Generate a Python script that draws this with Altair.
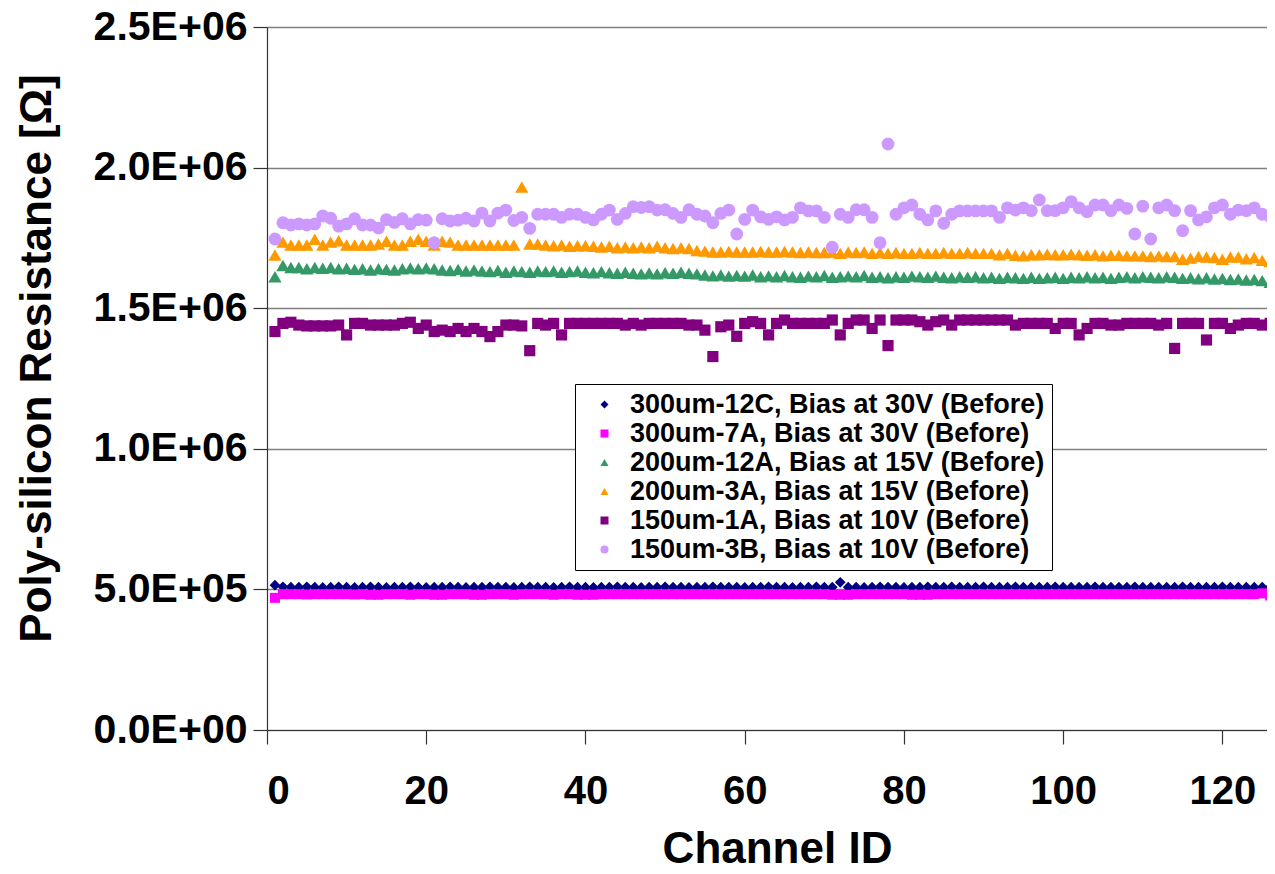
import altair as alt
import pandas as pd

# ---------------- data (values in units of 1E+06 Ohm) ----------------
channels = list(range(1, 127))

series_names = [
    "300um-12C, Bias at 30V (Before)",
    "300um-7A, Bias at 30V (Before)",
    "200um-12A, Bias at 15V (Before)",
    "200um-3A, Bias at 15V (Before)",
    "150um-1A, Bias at 10V (Before)",
    "150um-3B, Bias at 10V (Before)",
]

r_300_12C = [
    0.515, 0.509, 0.508, 0.508, 0.509, 0.508, 0.507, 0.508, 0.509, 0.508,
    0.507, 0.508, 0.509, 0.508, 0.507, 0.508, 0.508, 0.509, 0.508, 0.507,
    0.508, 0.508, 0.509, 0.508, 0.507, 0.508, 0.508, 0.509, 0.508, 0.508,
    0.507, 0.508, 0.509, 0.508, 0.508, 0.507, 0.508, 0.509, 0.508, 0.508,
    0.507, 0.508, 0.508, 0.509, 0.508, 0.508, 0.507, 0.508, 0.508, 0.509,
    0.508, 0.508, 0.507, 0.508, 0.508, 0.509, 0.508, 0.508, 0.508, 0.507,
    0.508, 0.508, 0.509, 0.508, 0.508, 0.507, 0.508, 0.508, 0.509, 0.508,
    0.508, 0.525, 0.508, 0.508, 0.507, 0.508, 0.509, 0.508, 0.508, 0.507,
    0.508, 0.508, 0.509, 0.508, 0.508, 0.509, 0.508, 0.508, 0.508, 0.509,
    0.508, 0.508, 0.508, 0.509, 0.508, 0.508, 0.508, 0.508, 0.509, 0.508,
    0.508, 0.508, 0.508, 0.509, 0.508, 0.508, 0.508, 0.508, 0.509, 0.508,
    0.508, 0.508, 0.508, 0.508, 0.509, 0.508, 0.508, 0.508, 0.508, 0.509,
    0.508, 0.508, 0.508, 0.508, 0.508, 0.508,
]

r_300_7A = [
    0.470, 0.483, 0.483, 0.483, 0.482, 0.483, 0.483, 0.483, 0.483, 0.483,
    0.482, 0.483, 0.481, 0.481, 0.483, 0.483, 0.483, 0.481, 0.483, 0.483,
    0.481, 0.481, 0.483, 0.483, 0.483, 0.481, 0.481, 0.483, 0.483, 0.483,
    0.481, 0.483, 0.483, 0.483, 0.483, 0.481, 0.483, 0.483, 0.481, 0.481,
    0.481, 0.483, 0.483, 0.483, 0.483, 0.483, 0.483, 0.483, 0.483, 0.483,
    0.483, 0.483, 0.483, 0.483, 0.483, 0.483, 0.483, 0.483, 0.483, 0.483,
    0.483, 0.483, 0.483, 0.483, 0.483, 0.483, 0.483, 0.483, 0.483, 0.483,
    0.481, 0.481, 0.481, 0.483, 0.483, 0.483, 0.483, 0.483, 0.483, 0.483,
    0.481, 0.481, 0.481, 0.483, 0.483, 0.483, 0.483, 0.483, 0.483, 0.483,
    0.483, 0.483, 0.483, 0.483, 0.483, 0.483, 0.483, 0.483, 0.483, 0.483,
    0.483, 0.483, 0.483, 0.483, 0.483, 0.483, 0.483, 0.483, 0.483, 0.483,
    0.483, 0.483, 0.483, 0.483, 0.483, 0.483, 0.483, 0.483, 0.483, 0.483,
    0.483, 0.483, 0.483, 0.483, 0.486, 0.478,
]

r_200_12A = [
    1.612, 1.652, 1.645, 1.645, 1.640, 1.645, 1.642, 1.645, 1.640, 1.642,
    1.638, 1.640, 1.636, 1.640, 1.638, 1.636, 1.640, 1.643, 1.640, 1.643,
    1.640, 1.636, 1.634, 1.638, 1.632, 1.636, 1.632, 1.630, 1.634, 1.628,
    1.632, 1.630, 1.628, 1.632, 1.630, 1.632, 1.628, 1.630, 1.632, 1.628,
    1.626, 1.630, 1.626, 1.624, 1.628, 1.624, 1.622, 1.625, 1.622, 1.626,
    1.624, 1.628, 1.624, 1.622, 1.618, 1.615, 1.618, 1.614, 1.616, 1.614,
    1.618, 1.612, 1.615, 1.612, 1.616, 1.612, 1.610, 1.614, 1.612, 1.616,
    1.610, 1.612, 1.614, 1.612, 1.616, 1.610, 1.612, 1.608, 1.612, 1.610,
    1.614, 1.612, 1.610, 1.614, 1.610, 1.608, 1.612, 1.610, 1.612, 1.608,
    1.610, 1.606, 1.610, 1.608, 1.606, 1.610, 1.606, 1.608, 1.610, 1.606,
    1.610, 1.608, 1.612, 1.608, 1.610, 1.606, 1.610, 1.612, 1.608, 1.612,
    1.610, 1.608, 1.612, 1.610, 1.606, 1.608, 1.605, 1.608, 1.604, 1.606,
    1.602, 1.604, 1.600, 1.602, 1.598, 1.592,
]

r_200_3A = [
    1.689, 1.735, 1.725, 1.725, 1.725, 1.745, 1.725, 1.735, 1.740, 1.725,
    1.725, 1.725, 1.725, 1.728, 1.738, 1.725, 1.725, 1.738, 1.745, 1.738,
    1.725, 1.738, 1.735, 1.725, 1.725, 1.725, 1.725, 1.725, 1.725, 1.725,
    1.725, 1.931, 1.728, 1.728, 1.725, 1.722, 1.725, 1.720, 1.722, 1.722,
    1.720, 1.718, 1.720, 1.715, 1.718, 1.715, 1.718, 1.715, 1.720, 1.715,
    1.712, 1.715, 1.712, 1.705, 1.703, 1.700, 1.700, 1.702, 1.700, 1.700,
    1.700, 1.702, 1.700, 1.700, 1.702, 1.700, 1.698, 1.700, 1.698, 1.698,
    1.700, 1.695, 1.700, 1.698, 1.700, 1.695, 1.698, 1.695, 1.698, 1.695,
    1.695, 1.698, 1.695, 1.695, 1.698, 1.695, 1.695, 1.698, 1.695, 1.695,
    1.695, 1.690, 1.695, 1.688, 1.686, 1.690, 1.690, 1.692, 1.690, 1.690,
    1.692, 1.690, 1.688, 1.690, 1.686, 1.688, 1.688, 1.686, 1.686, 1.686,
    1.684, 1.686, 1.684, 1.684, 1.674, 1.678, 1.684, 1.682, 1.680, 1.674,
    1.682, 1.682, 1.676, 1.680, 1.670, 1.666,
]

r_150_1A = [
    1.417, 1.446, 1.450, 1.440, 1.437, 1.437, 1.437, 1.437, 1.440, 1.405,
    1.446, 1.446, 1.440, 1.440, 1.440, 1.440, 1.446, 1.450, 1.428, 1.440,
    1.417, 1.422, 1.417, 1.428, 1.417, 1.428, 1.417, 1.399, 1.417, 1.440,
    1.440, 1.437, 1.349, 1.446, 1.440, 1.446, 1.405, 1.446, 1.446, 1.446,
    1.446, 1.446, 1.446, 1.446, 1.440, 1.446, 1.440, 1.446, 1.446, 1.446,
    1.446, 1.446, 1.440, 1.440, 1.422, 1.328, 1.434, 1.440, 1.400, 1.446,
    1.452, 1.446, 1.405, 1.446, 1.458, 1.446, 1.446, 1.446, 1.446, 1.446,
    1.458, 1.405, 1.446, 1.458, 1.458, 1.428, 1.458, 1.367, 1.458, 1.458,
    1.458, 1.452, 1.440, 1.452, 1.458, 1.440, 1.458, 1.458, 1.458, 1.458,
    1.458, 1.458, 1.458, 1.440, 1.446, 1.446, 1.446, 1.446, 1.428, 1.446,
    1.446, 1.405, 1.428, 1.446, 1.446, 1.440, 1.440, 1.446, 1.446, 1.446,
    1.446, 1.440, 1.446, 1.357, 1.446, 1.446, 1.446, 1.387, 1.446, 1.446,
    1.428, 1.440, 1.446, 1.446, 1.440, 1.446,
]

r_150_3B = [
    1.746, 1.804, 1.796, 1.800, 1.796, 1.800, 1.828, 1.820, 1.792, 1.800,
    1.818, 1.796, 1.796, 1.785, 1.815, 1.805, 1.818, 1.800, 1.815, 1.813,
    1.733, 1.818, 1.810, 1.813, 1.820, 1.810, 1.838, 1.810, 1.838, 1.849,
    1.812, 1.823, 1.784, 1.834, 1.834, 1.834, 1.823, 1.834, 1.834, 1.823,
    1.814, 1.834, 1.849, 1.816, 1.837, 1.861, 1.858, 1.861, 1.849, 1.850,
    1.837, 1.823, 1.850, 1.834, 1.828, 1.804, 1.837, 1.849, 1.764, 1.816,
    1.849, 1.825, 1.816, 1.825, 1.814, 1.823, 1.857, 1.846, 1.846, 1.823,
    1.717, 1.834, 1.823, 1.850, 1.850, 1.823, 1.733, 2.084, 1.834, 1.857,
    1.867, 1.834, 1.814, 1.846, 1.802, 1.834, 1.846, 1.846, 1.846, 1.846,
    1.846, 1.823, 1.857, 1.849, 1.857, 1.847, 1.885, 1.847, 1.847, 1.857,
    1.879, 1.857, 1.843, 1.867, 1.867, 1.847, 1.867, 1.855, 1.764, 1.863,
    1.746, 1.857, 1.867, 1.847, 1.776, 1.847, 1.814, 1.825, 1.857, 1.867,
    1.834, 1.849, 1.847, 1.857, 1.834, 1.825,
]

series_values = [r_300_12C, r_300_7A, r_200_12A, r_200_3A, r_150_1A, r_150_3B]

colors = ["#000080", "#FF00FF", "#339966", "#FF9900", "#800080", "#CC99FF"]
shapes = ["diamond", "square", "triangle-up", "triangle-up", "square", "circle"]
marker_sizes = [115, 100, 175, 175, 125, 165]

x_ticks = [0, 20, 40, 60, 80, 100, 120]
y_ticks = [0, 500000, 1000000, 1500000, 2000000, 2500000]
y_tick_labels = ["0.0E+00", "5.0E+05", "1.0E+06", "1.5E+06", "2.0E+06", "2.5E+06"]

# ---------------- table ----------------
rows = []
for name, vals in zip(series_names, series_values):
    for ch, v in zip(channels, vals):
        rows.append({"Channel": ch, "R": v * 1e6, "Series": name})
df = pd.DataFrame(rows)

label_expr = ""
for v, lab in zip(y_ticks, y_tick_labels):
    label_expr += f"datum.value == {v} ? '{lab}' : "
label_expr += "''"

FONT = "Liberation Sans"

legend = alt.Legend(
    title=None,
    orient="none",
    legendX=308,
    legendY=357,
    fillColor="white",
    strokeColor="black",
    padding=7,
    symbolOffset=9,
    labelOffset=12,
    labelFont=FONT,
    labelFontSize=27,
    labelFontWeight="bold",
    labelColor="black",
    labelLimit=800,
    rowPadding=1,
    symbolSize=64,
    symbolStrokeWidth=0,
)

base = alt.Chart(df).encode(
    x=alt.X(
        "Channel:Q",
        scale=alt.Scale(domain=[0, 125.6], nice=False, zero=False),
        axis=alt.Axis(
            values=x_ticks,
            title="Channel ID",
            grid=False,
            labelPadding=27,
            labelFontSize=40,
            titleX=510,
            titleY=119,
            titleBaseline="middle",
            titleFontSize=44,
        ),
    ),
    y=alt.Y(
        "R:Q",
        scale=alt.Scale(domain=[0, 2500000], nice=False),
        axis=alt.Axis(
            values=y_ticks,
            labelExpr=label_expr,
            labelFontSize=41,
            title="Poly-silicon Resistance [Ω]",
            labelPadding=6,
            titleX=-230,
            titleY=331,
            titleAngle=-90,
            titleAlign="center",
            titleBaseline="middle",
            titleFontSize=44,
        ),
    ),
    color=alt.Color(
        "Series:N",
        scale=alt.Scale(domain=series_names, range=colors),
        legend=legend,
    ),
    shape=alt.Shape(
        "Series:N",
        scale=alt.Scale(domain=series_names, range=shapes),
        legend=legend,
    ),
)

layers = [
    base.transform_filter(alt.datum.Series == name).mark_point(
        filled=True, opacity=1, strokeWidth=0, size=sz
    )
    for name, sz in zip(series_names, marker_sizes)
]

chart = (
    alt.layer(*layers)
    .properties(
        width=1000,
        height=703,
        autosize=alt.AutoSizeParams(type="none"),
        padding={"left": 259, "top": 19, "right": 0, "bottom": 136},
    )
    .configure_view(stroke=None)
    .configure_axis(
        labelFont=FONT,
        labelFontWeight="bold",
        labelColor="black",
        titleFont=FONT,
        titleFontWeight="bold",
        titleColor="black",
        domainColor="#333333",
        domainWidth=1.2,
        tickColor="#333333",
        tickWidth=1.2,
        tickSize=14,
        gridColor="#808080",
        gridWidth=1.5,
    )
)

chart.save("out.html", embed_options={"renderer": "svg", "actions": False})
